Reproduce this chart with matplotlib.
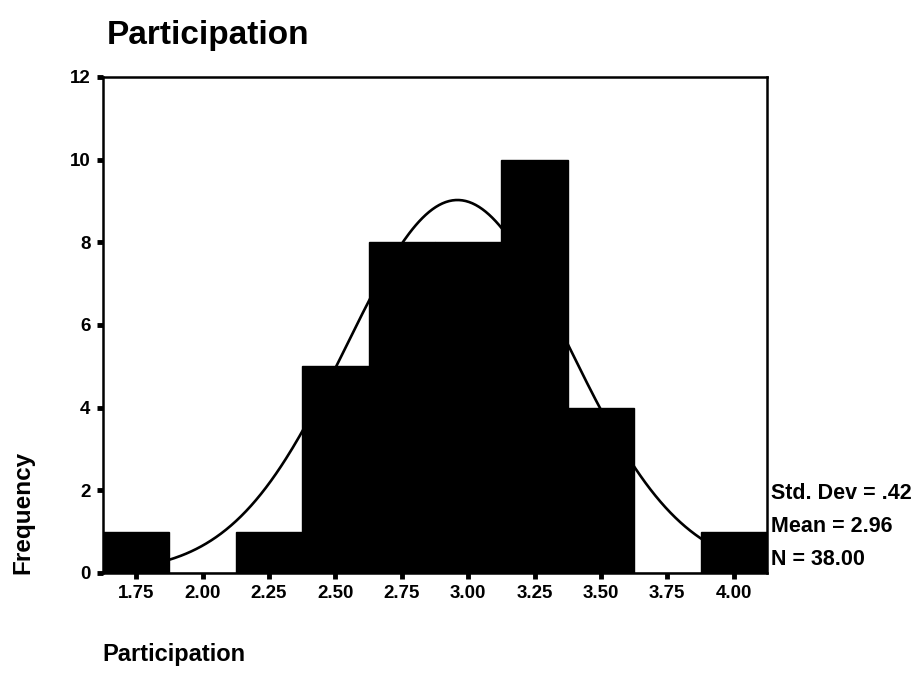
import matplotlib
matplotlib.use('Agg')
import matplotlib.pyplot as plt
import numpy as np

plt.rcParams['font.family'] = ['Liberation Sans', 'DejaVu Sans']

# histogram data
bin_centers = [1.75, 2.00, 2.25, 2.50, 2.75, 3.00, 3.25, 3.50, 3.75, 4.00]
counts = [1, 0, 1, 5, 8, 8, 10, 4, 0, 1]
bin_width = 0.25
x_ticks = [1.75, 2.00, 2.25, 2.50, 2.75, 3.00, 3.25, 3.50, 3.75, 4.00]
y_ticks = [0, 2, 4, 6, 8, 10, 12]

# summary stats shown at the right
std_dev = 0.42
mean = 2.96
n = 38

fig = plt.figure(figsize=(9.19, 6.73), dpi=100)
ax = fig.add_axes([0.112, 0.1486, 0.7225, 0.737])

# normal curve for the stated mean / sd, scaled to counts
xs = np.linspace(1.625, 4.125, 400)
ys = n * bin_width / (std_dev * np.sqrt(2 * np.pi)) * np.exp(-0.5 * ((xs - mean) / std_dev) ** 2)
ax.plot(xs, ys, color='black', lw=1.9, zorder=1)

ax.bar(bin_centers, counts, width=bin_width, color='black', edgecolor='black', zorder=2)

ax.set_xlim(1.625, 4.125)
ax.set_ylim(0, 12)
ax.set_xticks(x_ticks)
ax.set_xticklabels(['%.2f' % v for v in x_ticks])
ax.set_yticks(y_ticks)

for s in ax.spines.values():
    s.set_linewidth(1.8)
ax.tick_params(axis='both', length=4, width=3.5, direction='out', labelsize=13.5, pad=5)
for lab in ax.get_xticklabels() + ax.get_yticklabels():
    lab.set_fontweight('bold')

fig.text(0.116, 0.9346, 'Participation', fontsize=24, fontweight='bold', va='baseline', ha='left')
fig.text(0.111, 0.028, 'Participation', fontsize=17, fontweight='bold', va='center', ha='left')
fig.text(0.025, 0.239, 'Frequency', fontsize=17.5, fontweight='bold', va='center', ha='center', rotation=90)

stats = ['Std. Dev = .42', 'Mean = 2.96', 'N = 38.00']
for i, t in enumerate(stats):
    fig.text(0.839, 0.266 - i * 0.0485, t, fontsize=15.5, fontweight='bold', va='center', ha='left')

fig.savefig('out.png', dpi=100)
